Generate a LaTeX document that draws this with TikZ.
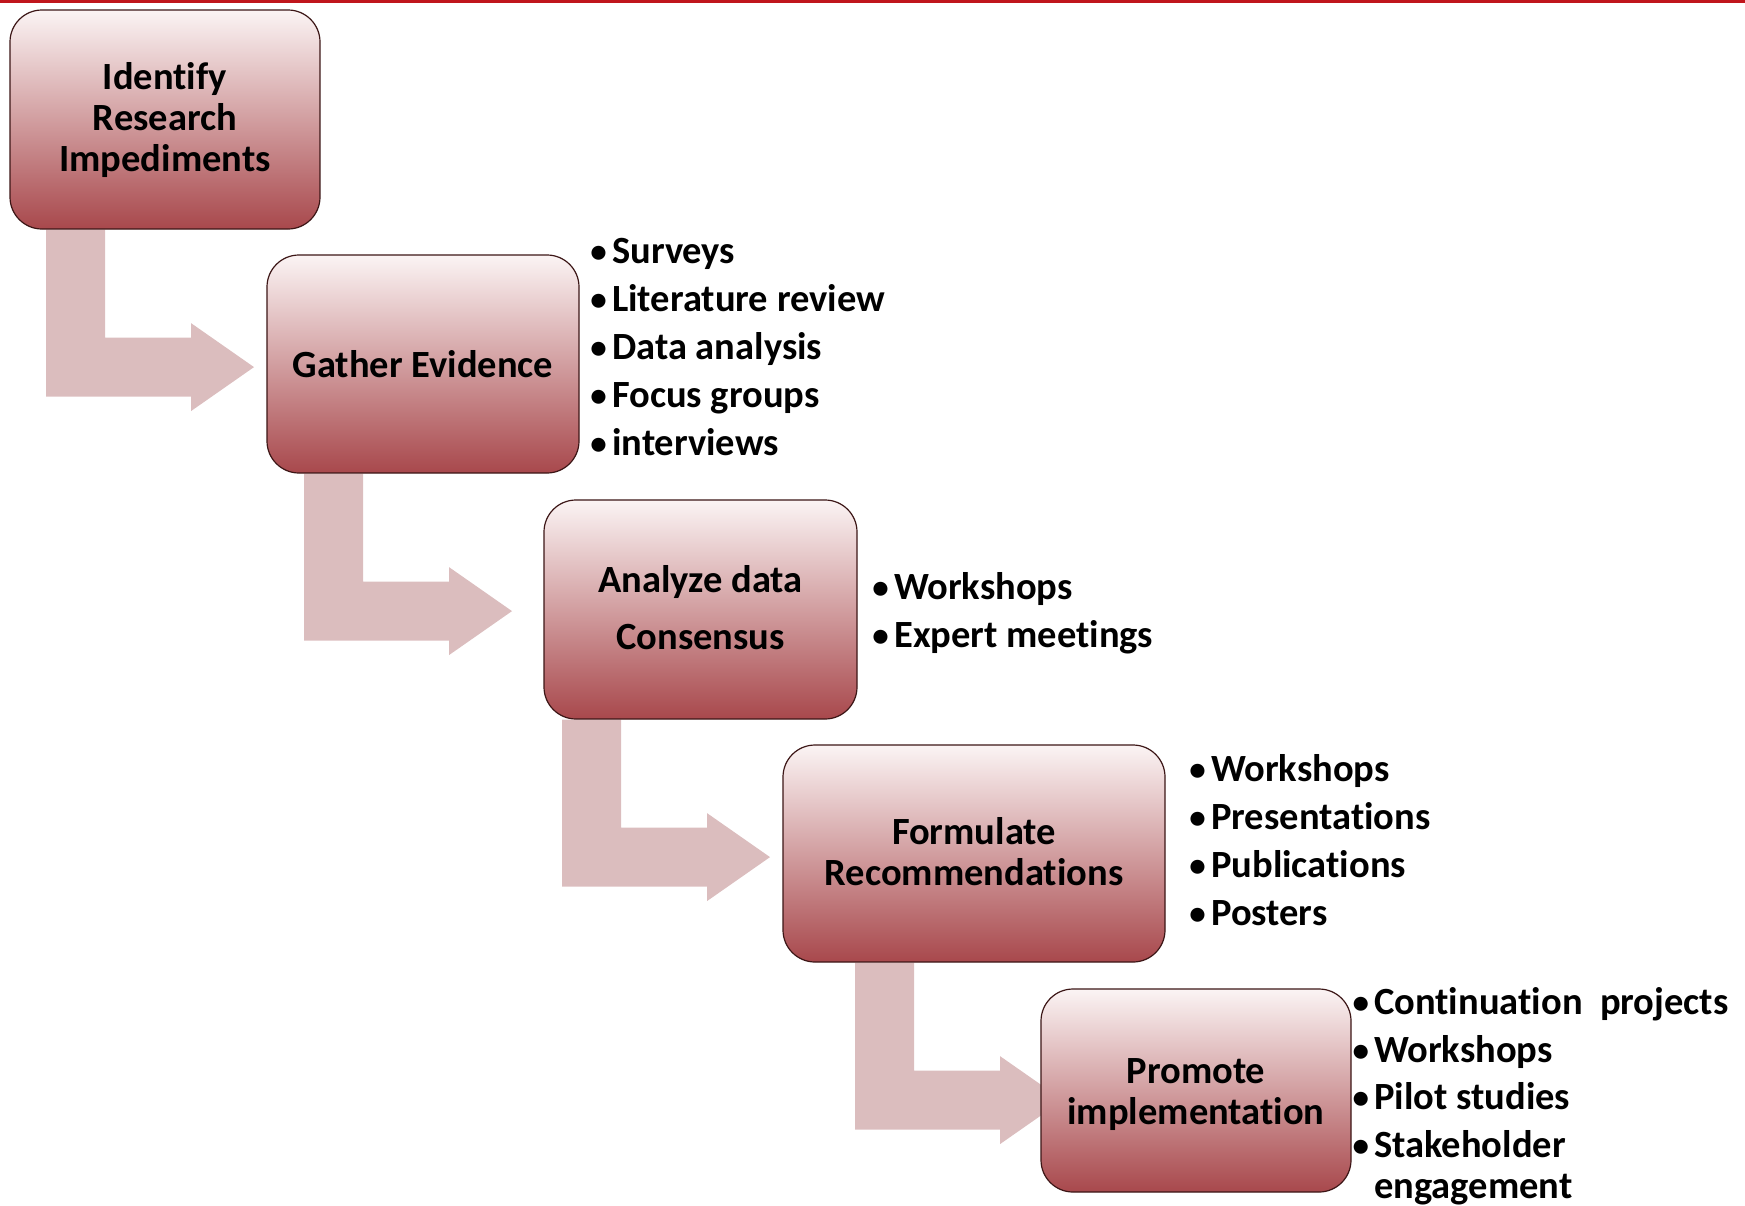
\documentclass[tikz,border=0pt]{standalone}
\usepackage{fontspec}
\setmainfont{Carlito}[Ligatures={NoCommon}]
\pgfdeclarelayer{bg}
\pgfsetlayers{bg,main}
\definecolor{boxtop}{RGB}{251,244,244}
\definecolor{boxbot}{RGB}{168,72,76}
\definecolor{boxline}{RGB}{60,22,22}
\definecolor{arrowfill}{RGB}{219,189,190}
\definecolor{topred}{RGB}{192,22,28}
\tikzset{
  stage/.style={rounded corners=32pt, draw=boxline, line width=1.2pt,
    top color=boxtop, bottom color=boxbot, align=center, inner sep=0pt,
    font=\fontsize{38.5}{41}\selectfont\bfseries},
  item/.style={anchor=base west, inner sep=0pt,
    font=\fontsize{38.5}{41}\selectfont\bfseries},
  arr/.style={fill=arrowfill}
}
\newcommand\blockarrow[2]{\fill[arr] ([xshift=#2]#1.south) -- ++(59,0) -- ++(0,108) -- ++(86,0) -- ++(0,-14.5) -- ++(63,44) -- ++(-63,44) -- ++(0,-14.5) -- ++(-145,0) -- cycle;}
\newcommand\bul{\llap{\makebox[0pt]{\raisebox{0.5pt}{\fontsize{33}{33}\selectfont •}}\hspace{13.5pt}}}
\begin{document}
\begin{tikzpicture}[x=1pt,y=-1pt]
\useasboundingbox (0,0) rectangle (1745,1205);
\fill[topred] (0,0) rectangle (1745,3);
% stages
\node[stage, minimum width=310pt, minimum height=219pt] (b1) at (165,119.5) {\rule{0pt}{29pt}Identify\\Research\\Impediments};
\node[stage, minimum width=312pt, minimum height=218pt] (b2) at (423,364) {Gather Evidence};
\node[stage, minimum width=313pt, minimum height=219pt] (b3) at (700.5,609.5) {Analyze data\\[16pt]Consensus\rule[-5pt]{0pt}{5pt}};
\node[stage, minimum width=382pt, minimum height=217pt] (b4) at (974,853.5) {Formulate\\Recommendations\rule[-5pt]{0pt}{5pt}};
\node[stage, minimum width=310pt, minimum height=203pt] (b5) at (1196,1090.5) {\rule{0pt}{33pt}Promote\\implementation};
% block arrows between stages
\begin{pgfonlayer}{bg}
\blockarrow{b1}{-119pt}
\blockarrow{b2}{-119pt}
\blockarrow{b3}{-138.5pt}
\blockarrow{b4}{-119pt}
\end{pgfonlayer}
% list for Gather Evidence
\node[item] (g1) at (612,263) {\bul Surveys};
\node[item] (g2) at (612,311) {\bul Literature review};
\node[item] (g3) at (612,359) {\bul Data analysis};
\node[item] (g4) at (612,407) {\bul Focus groups};
\node[item] (g5) at (612,455) {\bul interviews};
% list for Analyze data
\node[item] (a1) at (894,599) {\bul Workshops};
\node[item] (a2) at (894,647) {\bul Expert meetings};
% list for Formulate
\node[item] (f1) at (1211,781) {\bul Workshops};
\node[item] (f2) at (1211,829) {\bul Presentations};
\node[item] (f3) at (1211,877) {\bul Publications};
\node[item] (f4) at (1211,925) {\bul Posters};
% list for Promote
\node[item] (p1) at (1374,1014) {\bul Continuation~~projects};
\node[item] (p2) at (1374,1062) {\bul Workshops};
\node[item] (p3) at (1374,1109) {\bul Pilot studies};
\node[item] (p4) at (1374,1157) {\bul Stakeholder};
\node[item] (p5) at (1374,1198) {engagement};
\end{tikzpicture}
\end{document}
